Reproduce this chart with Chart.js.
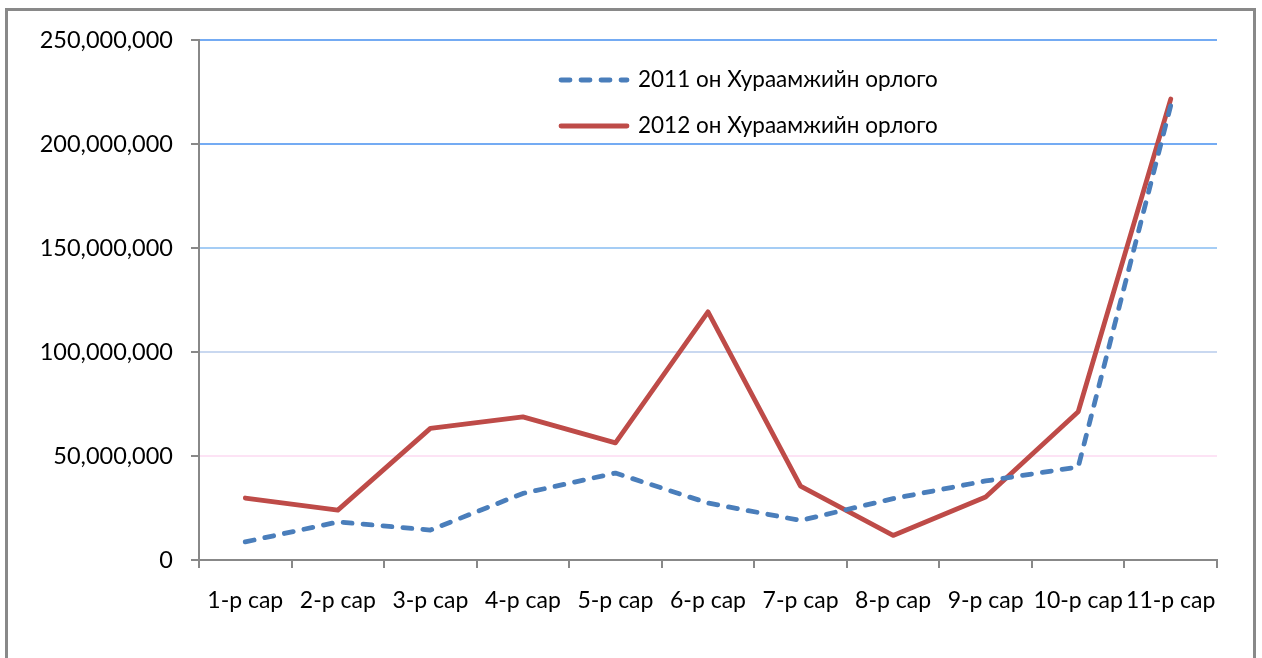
<!DOCTYPE html>
<html>
<head>
<meta charset="utf-8">
<script src="https://cdn.jsdelivr.net/npm/chart.js@4"></script>
<style>
html,body{margin:0;padding:0;background:#fff;overflow:hidden;}
#wrap{position:absolute;left:0;top:0;width:1262px;height:658px;}
</style>
</head>
<body>
<div id="wrap"><canvas id="c" width="1262" height="658"></canvas></div>
<script>
const categories = ["1-р сар","2-р сар","3-р сар","4-р сар","5-р сар","6-р сар","7-р сар","8-р сар","9-р сар","10-р сар","11-р сар"];
const seriesNames = ["2011 он Хураамжийн орлого","2012 он Хураамжийн орлого"];
const income2011 = [8700000,18300000,14400000,32000000,41800000,27400000,19000000,29500000,38000000,44700000,218500000];
const income2012 = [29800000,24000000,63300000,68800000,56300000,119300000,35500000,11800000,30300000,71300000,221600000];
const yTicks = [0,50000000,100000000,150000000,200000000,250000000];

const FONT = "Lato, 'Open Sans', sans-serif";
const gridColors = {0:"#888888",50000000:"#fde3f5",100000000:"#c9d8f0",150000000:"#a5cdf5",200000000:"#74abf3",250000000:"#74abf3"};

const frame = {
  id:'frame',
  beforeDraw(chart){
    const ctx = chart.ctx;
    ctx.save();
    ctx.strokeStyle = '#898989';
    ctx.lineWidth = 3;
    ctx.strokeRect(6.5, 9.5, 1248, 700);
    ctx.restore();
  }
};

const customLegend = {
  id:'customLegend',
  afterDraw(chart){
    const ctx = chart.ctx;
    ctx.save();
    const x0 = 561, x1 = 627, tx = 638;
    const ys = [80, 126];
    chart.data.datasets.forEach((ds,i)=>{
      ctx.beginPath();
      ctx.strokeStyle = ds.borderColor;
      ctx.lineWidth = ds.borderWidth;
      ctx.lineCap = 'round';
      ctx.setLineDash(ds.borderDash || []);
      ctx.moveTo(x0, ys[i]);
      ctx.lineTo(x1, ys[i]);
      ctx.stroke();
      ctx.setLineDash([]);
      ctx.fillStyle = '#000';
      ctx.font = "22.5px " + FONT;
      ctx.textBaseline = 'middle';
      ctx.textAlign = 'left';
      ctx.fillText(ds.label, tx, ys[i]);
    });
    ctx.restore();
  }
};

new Chart(document.getElementById('c'), {
  type:'line',
  data:{
    labels: categories,
    datasets:[
      {label: seriesNames[0], data: income2011, borderColor:'#4a7ebb', borderWidth:4.8, borderDash:[9,11], borderCapStyle:'round', borderJoinStyle:'round', pointRadius:0, fill:false, tension:0},
      {label: seriesNames[1], data: income2012, borderColor:'#be4b48', borderWidth:4.8, borderCapStyle:'round', borderJoinStyle:'round', pointRadius:0, fill:false, tension:0}
    ]
  },
  options:{
    responsive:false,
    animation:false,
    layout:{padding:{left:0,right:45,top:40,bottom:0}},
    plugins:{legend:{display:false}, tooltip:{enabled:false}},
    scales:{
      x:{
        offset:true,
        grid:{offset:true, drawOnChartArea:false, color:'#888888', lineWidth:2, tickLength:8, tickColor:'#888888'},
        border:{color:'#888888', width:2},
        ticks:{color:'#000', font:{family:FONT, size:23}, padding:19, maxRotation:0, minRotation:0, autoSkip:false},
        afterFit(s){ s.height = 98; }
      },
      y:{
        min:0, max:250000000,
        afterBuildTicks(s){ s.ticks = yTicks.map(v=>({value:v})); },
        grid:{
          color:(c)=> gridColors[c.tick.value] || '#ccc',
          lineWidth:2, tickLength:8, tickColor:'#888888', drawTicks:true
        },
        border:{color:'#888888', width:2},
        ticks:{color:'#000', font:{family:FONT, size:23.5}, padding:18,
          callback:(v)=> Number(v).toLocaleString('en-US')},
        afterFit(s){ s.width = 199; }
      }
    }
  },
  plugins:[frame, customLegend]
});
</script>
</body>
</html>
